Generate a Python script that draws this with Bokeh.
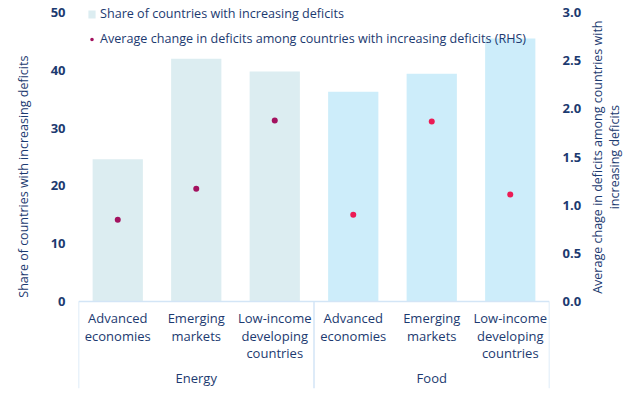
from bokeh.plotting import figure
from bokeh.models import (FactorRange, Range1d, LinearAxis, FixedTicker, Legend, LegendItem,
                          ColumnDataSource, PrintfTickFormatter)
from bokeh.layouts import row
from bokeh.core.properties import value
from bokeh.transform import dodge
from bokeh.embed import file_html
from bokeh.resources import INLINE

groups = ["Energy", "Food"]
subgroups = ["Advanced\neconomies", "Emerging\nmarkets", "Low-income\ndeveloping\ncountries"]
share_energy = [24.6, 42.0, 39.8]
share_food = [36.3, 39.4, 45.5]
avg_change_energy = [0.85, 1.17, 1.88]
avg_change_food = [0.90, 1.87, 1.11]
left_ticks = [0, 10, 20, 30, 40, 50]
right_ticks = [0.0, 0.5, 1.0, 1.5, 2.0, 2.5, 3.0]

NAVY = "#1c3a70"
LINE = "#d3e5f6"
FONT = "Open Sans"
NB = "\u00a0"

factors = [(g, s) for g in groups for s in subgroups]
x_range = FactorRange(*factors, range_padding=0, group_padding=0, factor_padding=0,
                      subgroup_padding=0)

Y_MIN, Y_MAX = -15.05, 52.08
R_MIN, R_MAX = Y_MIN * 0.06, Y_MAX * 0.06

p = figure(width=585, height=396, x_range=x_range, y_range=Range1d(Y_MIN, Y_MAX),
           output_backend="svg", toolbar_location=None, x_axis_location=None,
           min_border_left=78, min_border_right=36, min_border_top=0, min_border_bottom=8)
p.extra_y_ranges = {"rhs": Range1d(R_MIN, R_MAX)}
p.outline_line_color = None
p.xgrid.visible = False
p.ygrid.visible = False
p.background_fill_color = None
p.border_fill_color = "white"

src_e = ColumnDataSource(dict(x=factors[:3], share=share_energy, avg=avg_change_energy))
src_f = ColumnDataSource(dict(x=factors[3:], share=share_food, avg=avg_change_food))

bars_e = p.vbar(x="x", top="share", bottom=0, width=0.64, source=src_e,
                fill_color="#dcedf1", line_color=None)
bars_f = p.vbar(x="x", top="share", bottom=0, width=0.64, source=src_f,
                fill_color="#cdedfa", line_color=None)
dots_e = p.scatter(x="x", y="avg", source=src_e, y_range_name="rhs", size=6,
                   fill_color="#a3125f", line_color=None)
dots_f = p.scatter(x="x", y="avg", source=src_f, y_range_name="rhs", size=6,
                   fill_color="#ec1c55", line_color=None)

# category axis box
p.segment(x0=dodge("x0", -0.5, range=x_range), y0=0, x1=dodge("x1", 0.5, range=x_range), y1=0,
          source=ColumnDataSource(dict(x0=[factors[0]], x1=[factors[-1]])),
          line_color=LINE, line_width=1.5)
p.segment(x0=dodge("x", -0.5, range=x_range), y0=0, x1=dodge("x", -0.5, range=x_range), y1=Y_MIN,
          source=ColumnDataSource(dict(x=[factors[0], factors[3]])), line_color=LINE, line_width=1.5)
p.segment(x0=dodge("x", 0.5, range=x_range), y0=0, x1=dodge("x", 0.5, range=x_range), y1=Y_MIN,
          source=ColumnDataSource(dict(x=[factors[5]])), line_color=LINE, line_width=1.5)

# category labels
p.text(x="x", y=-1.38, text="t",
       source=ColumnDataSource(dict(x=factors, t=[s for g, s in factors])),
       text_align="center", text_baseline="top", text_color=NAVY,
       text_font=value(FONT), text_font_size="13px", text_line_height=0.97)
p.text(x="x", y=-13.3, text="t",
       source=ColumnDataSource(dict(x=[factors[1], factors[4]], t=groups)),
       text_align="center", text_baseline="middle", text_color=NAVY,
       text_font=value(FONT), text_font_size="13px")

# axes
ax = p.yaxis[0]
ax.ticker = FixedTicker(ticks=left_ticks)
rax = LinearAxis(y_range_name="rhs", ticker=FixedTicker(ticks=right_ticks),
                 formatter=PrintfTickFormatter(format="%.1f"))
p.add_layout(rax, "right")


def style_axis(a):
    a.axis_line_color = None
    a.major_tick_line_color = None
    a.minor_tick_line_color = None
    a.major_tick_out = 0
    a.minor_tick_out = 0
    a.major_label_standoff = 13
    a.major_label_text_color = NAVY
    a.major_label_text_font = FONT
    a.major_label_text_font_size = "13px"
    a.major_label_text_font_style = "bold"
    a.axis_label_text_color = NAVY
    a.axis_label_text_font = FONT
    a.axis_label_text_font_size = "12.5px"
    a.axis_label_text_font_style = "normal"


style_axis(ax)
style_axis(rax)
ax.axis_label = NB * 11 + "Share of countries with increasing deficits"
ax.axis_label_standoff = 16

legend = Legend(items=[LegendItem(label="Share of countries with increasing deficits", renderers=[bars_e]),
                       LegendItem(label="Average change in deficits among countries with increasing deficits (RHS)",
                                  renderers=[dots_e])],
                location=(9, 341), orientation="vertical", spacing=8, padding=0, margin=0,
                glyph_width=9, glyph_height=10, label_height=10, label_standoff=4,
                background_fill_alpha=0, border_line_color=None,
                label_text_color=NAVY, label_text_font=FONT, label_text_font_size="12.6px")
p.add_layout(legend)

# right-hand axis title panel (reads bottom-to-top like the reference)
p2 = figure(width=45, height=396, x_range=Range1d(0, 1), y_range=Range1d(R_MIN, R_MAX),
            output_backend="svg", toolbar_location=None, x_axis_location=None,
            min_border_left=42, min_border_right=0, min_border_top=0, min_border_bottom=8)
p2.outline_line_color = None
p2.xgrid.visible = False
p2.ygrid.visible = False
p2.background_fill_color = None
p2.border_fill_color = "white"
a2 = p2.yaxis[0]
style_axis(a2)
a2.ticker = FixedTicker(ticks=[])
a2.major_label_standoff = 0
a2.axis_label = (NB * 23 + "Average chage in deficits among countries with\n"
                 + NB * 23 + "increasing deficits")
a2.axis_label_standoff = 7
a2.axis_label_text_line_height = 1.0

layout = row(p, p2)
open("out.html", "w").write(file_html(layout, INLINE))
